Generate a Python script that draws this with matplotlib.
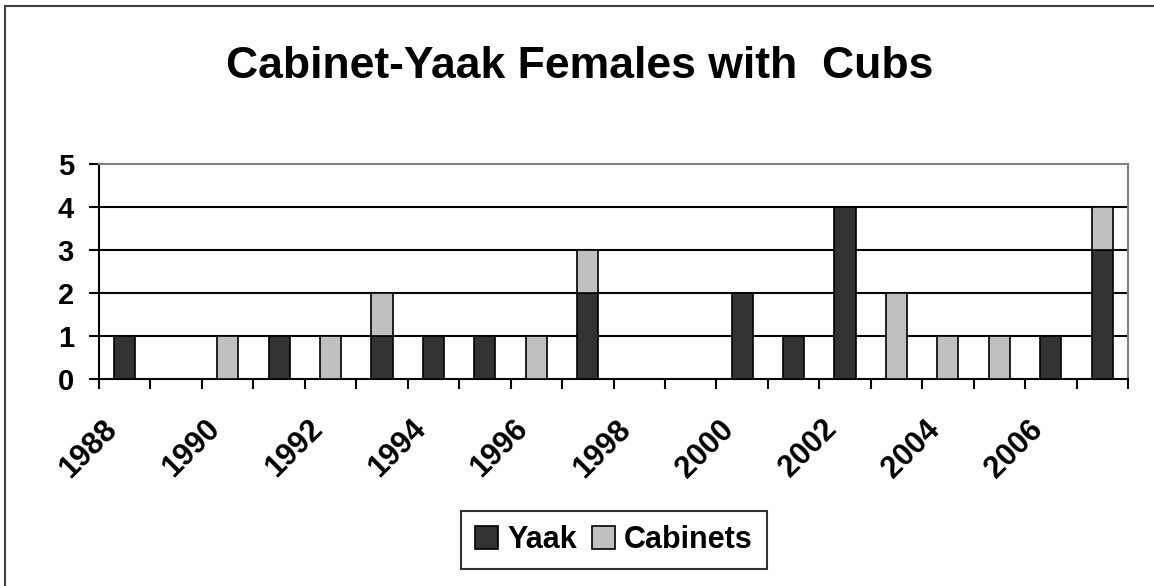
import matplotlib.pyplot as plt
import matplotlib.patches as mpatches
import numpy as np

plt.rcParams['font.family'] = ['Liberation Sans', 'DejaVu Sans']
plt.rcParams['font.weight'] = 'bold'

# Data
years = list(range(1988, 2008))
yaak = [1, 0, 0, 1, 0, 1, 1, 1, 0, 2, 0, 0, 2, 1, 4, 0, 0, 0, 1, 3]
cabinets = [0, 0, 1, 0, 1, 1, 0, 0, 1, 1, 0, 0, 0, 0, 0, 2, 1, 1, 0, 1]

fig = plt.figure(figsize=(11.54, 5.86), dpi=100)
ax = fig.add_axes([99 / 1154, 1 - 379 / 586, 1029 / 1154, 215 / 586])

x = np.arange(len(years))
w = 0.41
ax.bar(x, yaak, w, color='#333333', edgecolor='black', linewidth=1.2, label='Yaak', zorder=3)
ax.bar(x, cabinets, w, bottom=yaak, color='#c0c0c0', edgecolor='black', linewidth=1.2,
       label='Cabinets', zorder=3)

ax.set_xlim(-0.5, len(years) - 0.5)
ax.set_ylim(0, 5)
ax.set_yticks(range(6))
ax.tick_params(axis='y', labelsize=21, length=7, width=1.5, direction='out', pad=11)
for lbl in ax.get_yticklabels():
    lbl.set_fontweight('bold')

# category boundary ticks
ax.set_xticks(np.arange(-0.5, len(years), 1.0))
ax.set_xticklabels([])
ax.tick_params(axis='x', length=7, width=1.5, direction='out')
for i, yr in enumerate(years):
    if yr % 2 == 0:
        ax.text(i - 0.45, -0.82, str(yr), rotation=45, ha='right', va='top',
                rotation_mode='anchor', fontsize=22, fontweight='bold',
                transform=ax.transData)

for yv in range(1, 5):
    ax.axhline(yv, color='black', linewidth=1.5, zorder=1)

ax.spines['left'].set_linewidth(1.5)
ax.spines['bottom'].set_linewidth(1.5)
ax.spines['top'].set_color('#808080')
ax.spines['right'].set_color('#808080')
ax.spines['top'].set_linewidth(1.5)
ax.spines['right'].set_linewidth(1.5)

fig.text(580 / 1154, 1 - 66 / 586, 'Cabinet-Yaak Females with  Cubs', ha='center',
         va='center', fontsize=32, fontweight='bold')

leg = fig.legend(loc='center', bbox_to_anchor=(614 / 1154, 1 - 540 / 586), ncol=2,
                 frameon=True, fancybox=False, edgecolor='black', fontsize=22,
                 handlelength=0.75, handleheight=0.75, handletextpad=0.3,
                 columnspacing=0.5, borderpad=0.45)
leg.get_frame().set_linewidth(1.5)

# outer chart border
fig.patches.append(mpatches.Rectangle((5 / 1154, -0.05), 1.2, 1 - 6 / 586 + 0.05,
                                      transform=fig.transFigure, fill=False,
                                      edgecolor='#404040', linewidth=1.5))

fig.savefig('out.png', dpi=100)
